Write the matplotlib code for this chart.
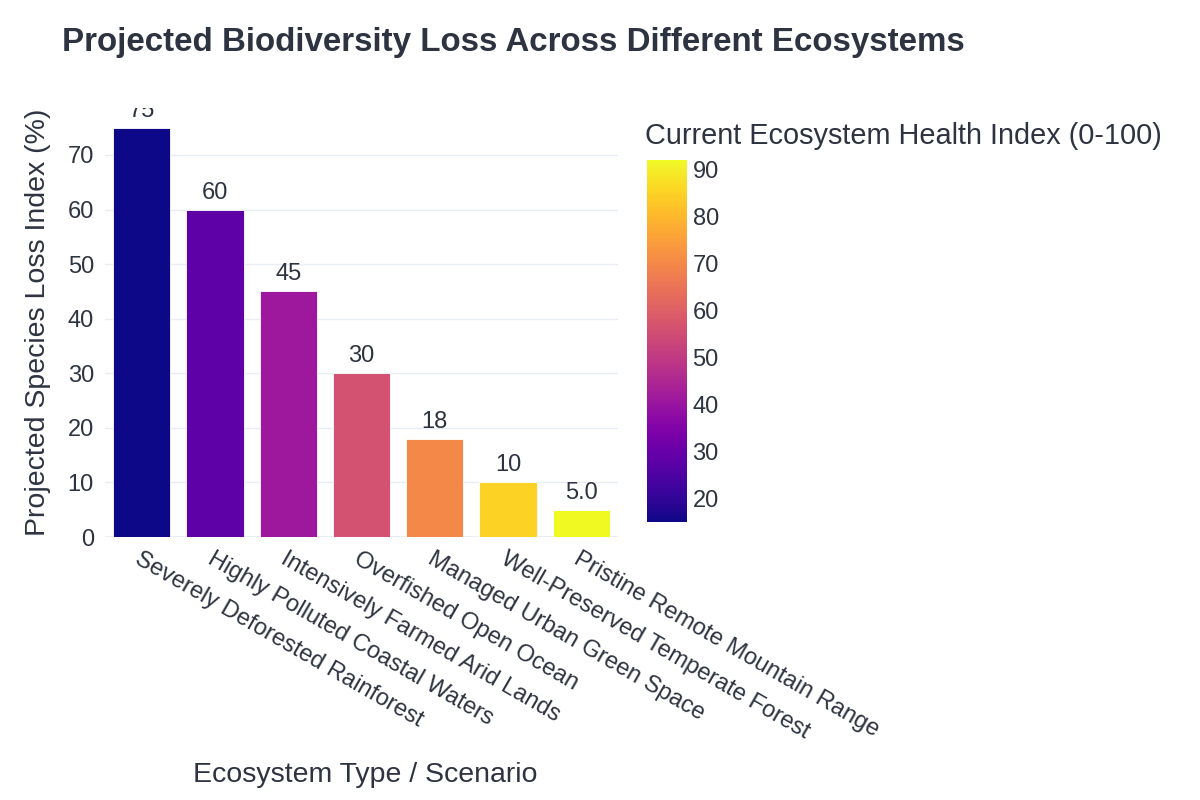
import numpy as np
import matplotlib
matplotlib.use("Agg")
import matplotlib.pyplot as plt
from matplotlib.colors import Normalize

plt.rcParams['font.family'] = ['Liberation Sans', 'DejaVu Sans']

# data
ecosystems = ['Severely Deforested Rainforest', 'Highly Polluted Coastal Waters',
              'Intensively Farmed Arid Lands', 'Overfished Open Ocean',
              'Managed Urban Green Space', 'Well-Preserved Temperate Forest',
              'Pristine Remote Mountain Range']
species_loss = [75, 60, 45, 30, 18, 10, 5]
health_index = [15, 28, 41, 56, 70, 85, 92]

text_col = '#2d3340'
grid_col = '#e8edf5'

fig = plt.figure(figsize=(12, 8), dpi=100)
ax = fig.add_axes([105/1200, 1 - 537/800, 513/1200, 429/800])

norm = Normalize(vmin=min(health_index), vmax=max(health_index))
cmap = plt.get_cmap('plasma')
colors = cmap(norm(health_index))

x = np.arange(len(ecosystems))
bars = ax.bar(x, species_loss, width=0.78, color=colors, edgecolor='white', linewidth=0.6, zorder=3)

# value labels above bars
for xi, v in zip(x, species_loss):
    lbl = f"{v:.1f}" if v < 10 else f"{v:.0f}"
    ax.text(xi, v + 1.1, lbl, ha='center', va='bottom', fontsize=17, color=text_col,
            clip_on=True, zorder=4)

ax.set_xlim(-0.5, len(ecosystems) - 0.5)
ax.set_ylim(0, 78.6)
ax.set_yticks(range(0, 80, 10))
ax.yaxis.grid(True, color=grid_col, linewidth=1, zorder=0)
ax.axhline(0, color=grid_col, linewidth=2, zorder=2)
for s in ax.spines.values():
    s.set_visible(False)
ax.tick_params(axis='both', length=0, labelsize=17, labelcolor=text_col)
ax.tick_params(axis='y', pad=8)
ax.set_xticks(x)
ax.set_xticklabels(ecosystems, rotation=-30, ha='left', va='top', rotation_mode='anchor')
ax.tick_params(axis='x', pad=8)

# colorbar
cax = fig.add_axes([647/1200, 1 - 522/800, 40/1200, 362/800])
sm = matplotlib.cm.ScalarMappable(norm=norm, cmap=cmap)
cb = fig.colorbar(sm, cax=cax)
cb.outline.set_visible(False)
cb.set_ticks(range(20, 100, 10))
cax.tick_params(length=0, labelsize=17, labelcolor=text_col, pad=4)

fig.text(645/1200, 1 - 136/800, 'Current Ecosystem Health Index (0-100)', fontsize=20.8,
         color=text_col, ha='left', va='center')

fig.text(62/1200, 1 - 42/800, 'Projected Biodiversity Loss Across Different Ecosystems',
         fontsize=23.9, fontweight='bold', color=text_col, ha='left', va='center')
fig.text(38/1200, 1 - 322/800, 'Projected Species Loss Index (%)', fontsize=20.5,
         color=text_col, rotation=90, ha='center', va='center')
fig.text(365/1200, 1 - 775/800, 'Ecosystem Type / Scenario', fontsize=20.5,
         color=text_col, ha='center', va='center')

fig.savefig('out.png', dpi=100, facecolor='white')
